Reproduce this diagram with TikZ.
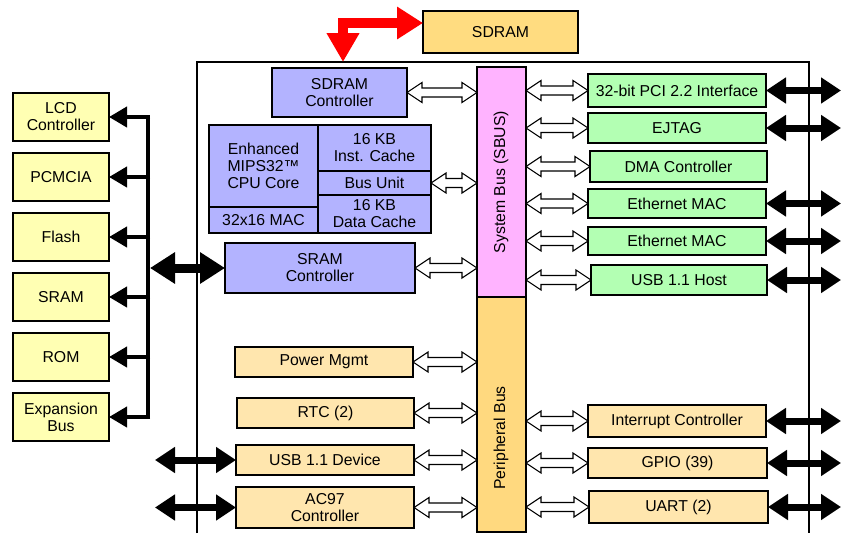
\documentclass[tikz,border=0pt]{standalone}
\usepackage{fontspec}
\setmainfont{Liberation Sans}
\usetikzlibrary{arrows.meta,calc}
\definecolor{lav}{HTML}{B3B3FF}
\definecolor{pinkb}{HTML}{FFB3FF}
\definecolor{pbusc}{HTML}{FFD97F}
\definecolor{sdramc}{HTML}{FFDC80}
\definecolor{perc}{HTML}{FFE6AE}
\definecolor{grn}{HTML}{B3FFB3}
\definecolor{yel}{HTML}{FFFFB3}
\newcommand\blk[7]{\node[#1, minimum width={#4-#2}, minimum height={#5-#3}] (#6) at ({(#2+#4)/2},{(#3+#5)/2}) {#7};}
\tikzset{
  box/.style={draw=black, line width=1.8pt, inner sep=0pt, outer sep=0pt, align=center,
    font=\fontsize{15.8}{17}\selectfont},
  hollow/.style={draw=black, fill=white, line width=1.1pt, line join=miter,
    to path={let \p1=(\tikztostart), \p2=(\tikztotarget) in
      (\x1,\y1) -- (\x1+15pt,\y1+10pt) -- (\x1+15pt,\y1+4.5pt) -- (\x2-15pt,\y1+4.5pt)
      -- (\x2-15pt,\y1+10pt) -- (\x2,\y1) -- (\x2-15pt,\y1-10pt) -- (\x2-15pt,\y1-4.5pt)
      -- (\x1+15pt,\y1-4.5pt) -- (\x1+15pt,\y1-10pt) -- cycle}},
  bigarrow/.style={draw=black, line width=7pt,
    {Triangle[length=20pt,width=25pt]}-{Triangle[length=20pt,width=25pt]}},
  smallarrow/.style={draw=black, line width=4pt, -{Triangle[length=18pt,width=20pt]}},
  lbl/.style={font=\fontsize{15.8}{17}\selectfont, rotate=90}
}
\begin{document}
\begin{tikzpicture}[x=1pt,y=-1pt]
\useasboundingbox (0,0) rectangle (841,533);
% chip outline
\coordinate (cbl) at (197,533);
\coordinate (ctl) at (197,62);
\coordinate (ctr) at (809,62);
\coordinate (cbr) at (809,533);
\draw[line width=2.6pt] (cbl) -- (ctl) -- (ctr) -- (cbr);
\coordinate (ctop) at (343,62);
\coordinate (redge) at (841,0);
\coordinate (ledge) at (155,0);
\coordinate (lb) at (148,0);
\coordinate (lbt) at (150,0);

% SDRAM
\blk{box,fill=sdramc}{423}{11}{578}{53}{sdram}{SDRAM}
\blk{box,fill=lav}{272}{68}{407}{117}{sdramctl}{\fontsize{15.8}{15}\selectfont SDRAM\\Controller}
% CPU block
\blk{box,fill=lav}{209}{125}{318}{207}{core}{\fontsize{15.8}{20}\selectfont Enhanced\\MIPS32™\\CPU Core}
\blk{box,fill=lav}{209}{207}{318}{233}{mac}{32x16 MAC}
\blk{box,fill=lav}{318}{125}{431}{171}{icache}{\fontsize{15.8}{20}\selectfont 16 KB\\Inst. Cache}
\blk{box,fill=lav}{318}{171}{431}{195}{busu}{Bus Unit}
\blk{box,fill=lav}{318}{195}{431}{233}{dcache}{16 KB\\Data Cache}
\blk{box,fill=lav}{225}{243}{415}{293}{sramc}{\fontsize{15.8}{15}\selectfont SRAM\\Controller}
% buses
\blk{box,fill=pinkb}{477}{67}{526}{297}{sbus}{}
\blk{box,fill=pbusc}{477}{297}{526}{532}{pbus}{}
\node[lbl] (sbustxt) at (501,182) {System Bus (SBUS)};
\node[lbl] (pbustxt) at (501,438) {Peripheral Bus};
% right green
\blk{box,fill=grn}{588}{74}{766}{107}{pci}{32-bit PCI 2.2 Interface}
\blk{box,fill=grn}{588}{113}{766}{143}{ejtag}{EJTAG}
\blk{box,fill=grn}{590}{151}{767}{182}{dma}{DMA Controller}
\blk{box,fill=grn}{588}{189}{766}{218}{eth1}{Ethernet MAC}
\blk{box,fill=grn}{588}{227}{766}{255}{eth2}{Ethernet MAC}
\blk{box,fill=grn}{591}{265}{767}{295}{usbh}{USB 1.1 Host}
% right peripherals
\blk{box,fill=perc}{588}{405}{766}{437}{intc}{Interrupt Controller}
\blk{box,fill=perc}{588}{448}{767}{478}{gpio}{GPIO (39)}
\blk{box,fill=perc}{589}{491}{768}{523}{uart}{UART (2)}
% left peripherals
\blk{box,fill=perc}{235}{347}{413}{377}{pwr}{Power Mgmt}
\blk{box,fill=perc}{237}{398}{414}{428}{rtc}{RTC (2)}
\blk{box,fill=perc}{236}{445}{414}{475}{usbd}{USB 1.1 Device}
\blk{box,fill=perc}{236}{487}{414}{528}{ac97}{AC97\\Controller}
% external memory devices
\blk{box,fill=yel}{13}{93}{109}{141}{lcd}{LCD\\Controller}
\blk{box,fill=yel}{13}{153}{109}{201}{pcm}{PCMCIA}
\blk{box,fill=yel}{13}{213}{109}{261}{flash}{Flash}
\blk{box,fill=yel}{13}{273}{109}{321}{sram}{SRAM}
\blk{box,fill=yel}{13}{333}{109}{381}{rom}{ROM}
\blk{box,fill=yel}{13}{393}{109}{441}{exp}{Expansion\\Bus}

% red arrow
\draw[red, line width=10pt, {Triangle[length=29pt,width=31pt]}-{Triangle[length=26pt,width=31pt]}]
  (ctop) |- ([yshift=9pt]sdram.west);

% hollow arrows
\draw[hollow] (sdramctl.east) to (sbus.west |- sdramctl.east);
\draw[hollow] (busu.east) to (sbus.west |- busu.east);
\draw[hollow] (sramc.east) to (sbus.west |- sramc.east);
\foreach \nm in {pci,ejtag,dma,eth1,eth2,usbh}{
  \draw[hollow] (sbus.east |- \nm.west) to (\nm.west);
}
\foreach \nm in {pwr,rtc,usbd,ac97}{
  \draw[hollow] (\nm.east) to (pbus.west |- \nm.east);
}
\foreach \nm in {intc,gpio,uart}{
  \draw[hollow] (pbus.east |- \nm.west) to (\nm.west);
}
% black arrows
\foreach \nm in {pci,ejtag,eth1,eth2,usbh,intc,gpio,uart}{
  \draw[bigarrow] (\nm.east) -- (\nm.east -| redge);
}
\foreach \nm in {usbd,ac97}{
  \draw[bigarrow] (ledge |- \nm.west) -- (\nm.west);
}
% left memory bus
\draw[line width=4pt] (lb |- lcd.east) -- (lb |- exp.east);
\foreach \nm in {lcd,pcm,flash,sram,rom,exp}{
  \draw[smallarrow] ([xshift=2pt]lb |- \nm.east) -- (\nm.east);
}
\draw[draw=black, line width=9pt, {Triangle[length=25pt,width=30pt]}-{Triangle[length=25pt,width=30pt]}]
  (lbt |- sramc.west) -- (sramc.west);
\end{tikzpicture}
\end{document}
